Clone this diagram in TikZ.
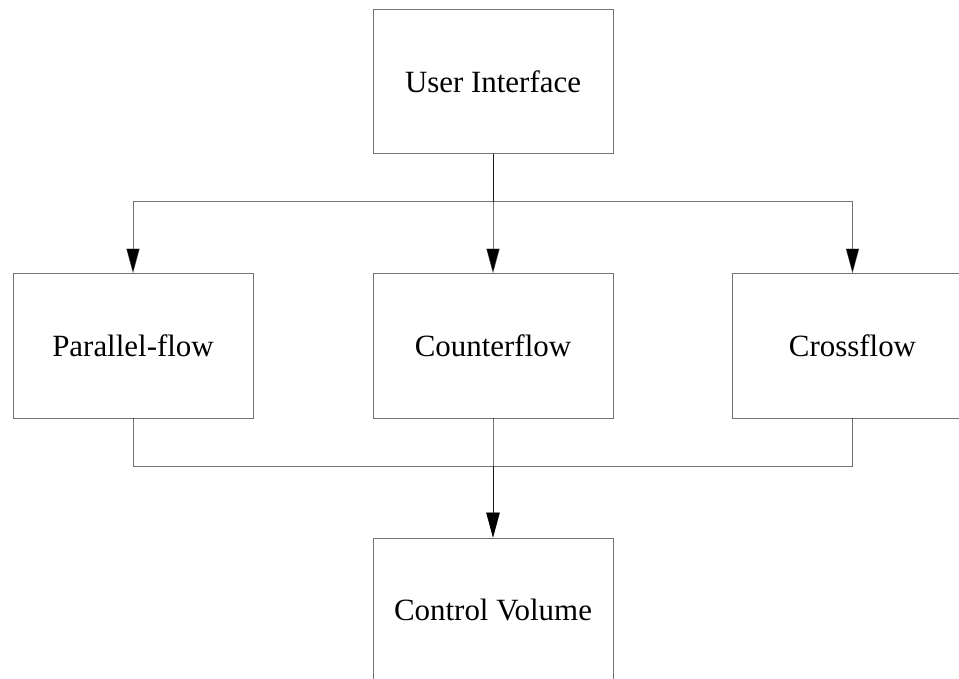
\documentclass[tikz,border=0pt]{standalone}
\usepackage{fontspec}
\setmainfont{Liberation Serif}
\usetikzlibrary{arrows.meta,positioning,calc}

\tikzset{
  block/.style={draw=black!55, line width=0.7pt, minimum width=6cm, minimum height=3.6cm,
    inner sep=0pt, font=\fontsize{22}{26}\selectfont},
  link/.style={draw=black, draw opacity=0.55, line width=0.7pt,
    -{Triangle[length=0.62cm,width=0.33cm]}}
}

\begin{document}
\begin{tikzpicture}
\useasboundingbox (0,0) rectangle (23.975,16.975);
\clip (0,0) rectangle (23.975,16.975);
% boxes
\node[block] (ui)  at (12.325,14.925) {User Interface};
\node[block] (par) at (3.325,8.325)   {Parallel-flow};
\node[block] (cnt) at (12.325,8.325)  {Counterflow};
\node[block] (crs) at (21.3125,8.325) {Crossflow};
\node[block] (cv)  at (12.325,1.725)  {Control Volume};
\coordinate (topbus) at (12.325,11.925);
\coordinate (botbus) at (12.325,5.325);
% user interface to the three types
\path[link] (ui.south) -- (topbus) -| (par.north);
\path[link] (ui.south) -- (cnt.north);
\path[link] (ui.south) -- (topbus) -| (crs.north);
% the three types to the control volume
\path[link] (par.south) -- (par.south |- botbus) -| (cv.north);
\path[link] (cnt.south) -- (cv.north);
\path[link] (crs.south) -- (crs.south |- botbus) -| (cv.north);
\end{tikzpicture}
\end{document}
